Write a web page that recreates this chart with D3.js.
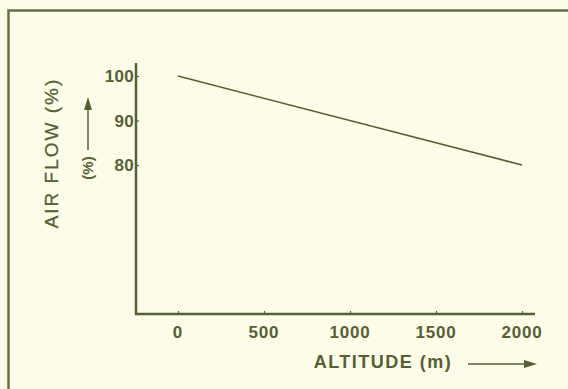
<!DOCTYPE html>
<html>
<head>
<meta charset="utf-8">
<script src="https://cdn.jsdelivr.net/npm/d3@7"></script>
<style>
body { margin: 0; background: #fdfce9; }
text { font-family: "Liberation Sans", Arial, sans-serif; fill: #566035; }
</style>
</head>
<body>
<div id="chart"></div>
<script>
var width = 568,
	height = 389;

// data
var altitude = [0, 2000];
var airFlow = [100, 80];
var xTicks = [0, 500, 1000, 1500, 2000];
var yTicks = [80, 90, 100];

var ink = "#566035";

var svg = d3.select("#chart")
	.append("svg")
	.attr("width", width)
	.attr("height", height);

svg.append("rect")
	.attr("width", width)
	.attr("height", height)
	.attr("fill", "#fdfce9");

// frame (runs off right and bottom)
svg.append("path")
	.attr("d", "M8.5," + (height + 5) + "V10.5H" + (width + 5))
	.attr("fill", "none")
	.attr("stroke", "#66704a")
	.attr("stroke-width", 2.5);

var x = d3.scaleLinear().domain([0, 2000]).range([178, 522]);
var y = d3.scaleLinear().domain([80, 100]).range([165, 76]);

var axisX = 136, axisY = 314;

// axes lines
svg.append("path")
	.attr("d", "M" + axisX + ",63V" + axisY + "H535")
	.attr("fill", "none")
	.attr("stroke", ink)
	.attr("stroke-width", 2.5);

var gx = svg.append("g")
	.attr("transform", "translate(0," + axisY + ")")
	.call(d3.axisTop(x).tickValues(xTicks).tickSize(3).tickFormat(""));
gx.select(".domain").remove();
gx.selectAll("line").attr("stroke", ink).attr("stroke-width", 1.2);

var gy = svg.append("g")
	.attr("transform", "translate(" + axisX + ",0)")
	.call(d3.axisRight(y).tickValues(yTicks).tickSize(3).tickFormat(""));
gy.select(".domain").remove();
gy.selectAll("line").attr("stroke", ink).attr("stroke-width", 1.2);

// tick labels
svg.selectAll(".xl")
	.data(xTicks)
	.enter().append("text")
	.attr("x", function(d){ return x(d); })
	.attr("y", 338)
	.attr("text-anchor", "middle")
	.attr("font-size", 17)
	.attr("font-weight", "bold")
	.attr("letter-spacing", 0.8)
	.text(function(d){ return d; });

svg.selectAll(".yl")
	.data(yTicks)
	.enter().append("text")
	.attr("x", 134)
	.attr("y", function(d){ return y(d) + 6; })
	.attr("text-anchor", "end")
	.attr("font-size", 17)
	.attr("font-weight", "bold")
	.attr("letter-spacing", 0.3)
	.text(function(d){ return d; });

// the line
var line = d3.line()
	.x(function(d, i){ return x(altitude[i]); })
	.y(function(d){ return y(d); });

svg.append("path")
	.datum(airFlow)
	.attr("d", line)
	.attr("fill", "none")
	.attr("stroke", ink)
	.attr("stroke-width", 1.5);

// titles
svg.append("text")
	.attr("x", 383)
	.attr("y", 368)
	.attr("text-anchor", "middle")
	.attr("font-size", 18)
	.attr("font-weight", "bold")
	.attr("letter-spacing", 1.5)
	.text("ALTITUDE (m)");

svg.append("line")
	.attr("x1", 468).attr("y1", 364)
	.attr("x2", 527).attr("y2", 364)
	.attr("stroke", ink)
	.attr("stroke-width", 1.5);
svg.append("path")
	.attr("d", "M537,364L524,360V368Z")
	.attr("fill", ink);

svg.append("text")
	.attr("transform", "translate(58,153) rotate(-90)")
	.attr("text-anchor", "middle")
	.attr("font-size", 19)
	.attr("letter-spacing", 2)
	.attr("stroke", ink)
	.attr("stroke-width", 0.3)
	.text("AIR FLOW (%)");

svg.append("text")
	.attr("transform", "translate(93,168) rotate(-90)")
	.attr("text-anchor", "middle")
	.attr("font-size", 15)
	.attr("font-weight", "bold")
	.text("(%)");

svg.append("line")
	.attr("x1", 88).attr("y1", 150)
	.attr("x2", 88).attr("y2", 108)
	.attr("stroke", ink)
	.attr("stroke-width", 1.5);
svg.append("path")
	.attr("d", "M88,97L84,110H92Z")
	.attr("fill", ink);
</script>
</body>
</html>
